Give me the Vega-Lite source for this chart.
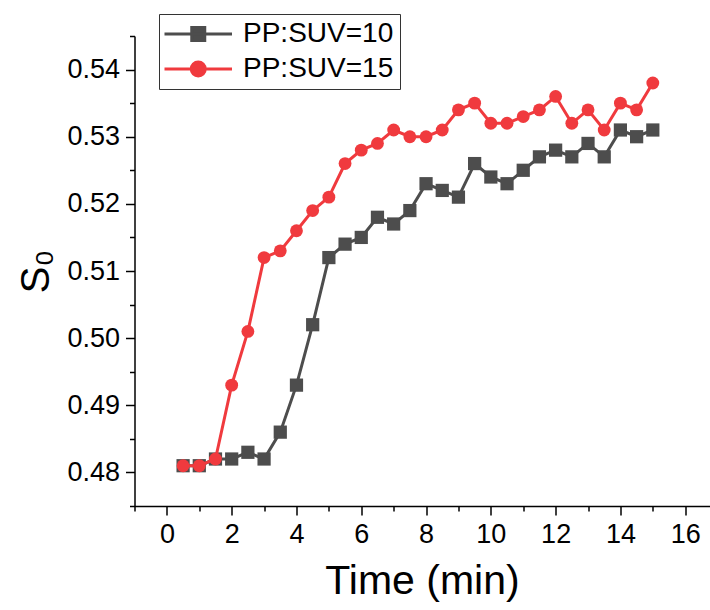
{
  "$schema": "https://vega.github.io/schema/vega-lite/v6.json",
  "autosize": "none",
  "width": 575,
  "height": 470,
  "padding": {"left": 134.5, "top": 36, "right": 0, "bottom": 104},
  "background": "white",
  "config": {
    "view": {"stroke": null},
    "font": "Liberation Sans",
    "axis": {"grid": false, "domainColor": "#000", "domainWidth": 1.5, "tickColor": "#000", "tickWidth": 1.5, "labelColor": "#000", "titleColor": "#000", "labelFont": "Liberation Sans", "titleFont": "Liberation Sans", "labelFontSize": 27, "titleFontWeight": "normal"}
  },
  "data": {"values": [
    {"t": 0.5, "s": 0.481, "g": "PP:SUV=10"}, {"t": 1.0, "s": 0.481, "g": "PP:SUV=10"}, {"t": 1.5, "s": 0.482, "g": "PP:SUV=10"},
    {"t": 2.0, "s": 0.482, "g": "PP:SUV=10"}, {"t": 2.5, "s": 0.483, "g": "PP:SUV=10"}, {"t": 3.0, "s": 0.482, "g": "PP:SUV=10"},
    {"t": 3.5, "s": 0.486, "g": "PP:SUV=10"}, {"t": 4.0, "s": 0.493, "g": "PP:SUV=10"}, {"t": 4.5, "s": 0.502, "g": "PP:SUV=10"},
    {"t": 5.0, "s": 0.512, "g": "PP:SUV=10"}, {"t": 5.5, "s": 0.514, "g": "PP:SUV=10"}, {"t": 6.0, "s": 0.515, "g": "PP:SUV=10"},
    {"t": 6.5, "s": 0.518, "g": "PP:SUV=10"}, {"t": 7.0, "s": 0.517, "g": "PP:SUV=10"}, {"t": 7.5, "s": 0.519, "g": "PP:SUV=10"},
    {"t": 8.0, "s": 0.523, "g": "PP:SUV=10"}, {"t": 8.5, "s": 0.522, "g": "PP:SUV=10"}, {"t": 9.0, "s": 0.521, "g": "PP:SUV=10"},
    {"t": 9.5, "s": 0.526, "g": "PP:SUV=10"}, {"t": 10.0, "s": 0.524, "g": "PP:SUV=10"}, {"t": 10.5, "s": 0.523, "g": "PP:SUV=10"},
    {"t": 11.0, "s": 0.525, "g": "PP:SUV=10"}, {"t": 11.5, "s": 0.527, "g": "PP:SUV=10"}, {"t": 12.0, "s": 0.528, "g": "PP:SUV=10"},
    {"t": 12.5, "s": 0.527, "g": "PP:SUV=10"}, {"t": 13.0, "s": 0.529, "g": "PP:SUV=10"}, {"t": 13.5, "s": 0.527, "g": "PP:SUV=10"},
    {"t": 14.0, "s": 0.531, "g": "PP:SUV=10"}, {"t": 14.5, "s": 0.530, "g": "PP:SUV=10"}, {"t": 15.0, "s": 0.531, "g": "PP:SUV=10"},
    {"t": 0.5, "s": 0.481, "g": "PP:SUV=15"}, {"t": 1.0, "s": 0.481, "g": "PP:SUV=15"}, {"t": 1.5, "s": 0.482, "g": "PP:SUV=15"},
    {"t": 2.0, "s": 0.493, "g": "PP:SUV=15"}, {"t": 2.5, "s": 0.501, "g": "PP:SUV=15"}, {"t": 3.0, "s": 0.512, "g": "PP:SUV=15"},
    {"t": 3.5, "s": 0.513, "g": "PP:SUV=15"}, {"t": 4.0, "s": 0.516, "g": "PP:SUV=15"}, {"t": 4.5, "s": 0.519, "g": "PP:SUV=15"},
    {"t": 5.0, "s": 0.521, "g": "PP:SUV=15"}, {"t": 5.5, "s": 0.526, "g": "PP:SUV=15"}, {"t": 6.0, "s": 0.528, "g": "PP:SUV=15"},
    {"t": 6.5, "s": 0.529, "g": "PP:SUV=15"}, {"t": 7.0, "s": 0.531, "g": "PP:SUV=15"}, {"t": 7.5, "s": 0.530, "g": "PP:SUV=15"},
    {"t": 8.0, "s": 0.530, "g": "PP:SUV=15"}, {"t": 8.5, "s": 0.531, "g": "PP:SUV=15"}, {"t": 9.0, "s": 0.534, "g": "PP:SUV=15"},
    {"t": 9.5, "s": 0.535, "g": "PP:SUV=15"}, {"t": 10.0, "s": 0.532, "g": "PP:SUV=15"}, {"t": 10.5, "s": 0.532, "g": "PP:SUV=15"},
    {"t": 11.0, "s": 0.533, "g": "PP:SUV=15"}, {"t": 11.5, "s": 0.534, "g": "PP:SUV=15"}, {"t": 12.0, "s": 0.536, "g": "PP:SUV=15"},
    {"t": 12.5, "s": 0.532, "g": "PP:SUV=15"}, {"t": 13.0, "s": 0.534, "g": "PP:SUV=15"}, {"t": 13.5, "s": 0.531, "g": "PP:SUV=15"},
    {"t": 14.0, "s": 0.535, "g": "PP:SUV=15"}, {"t": 14.5, "s": 0.534, "g": "PP:SUV=15"}, {"t": 15.0, "s": 0.538, "g": "PP:SUV=15"}
  ]},
  "encoding": {
    "x": {"field": "t", "type": "quantitative",
      "scale": {"domain": [-1, 16.75], "nice": false, "zero": false},
      "axis": {"title": "Time (min)", "titleFontSize": 41, "titlePadding": 14,
        "values": [-1,0,1,2,3,4,5,6,7,8,9,10,11,12,13,14,15,16],
        "labelExpr": "datum.value % 2 === 0 && datum.value >= 0 ? datum.label : ''",
        "tickSize": {"condition": {"test": "datum.value % 2 === 0", "value": 9}, "value": 5},
        "labelPadding": 6, "labelFlush": false, "labelOverlap": false}},
    "y": {"field": "s", "type": "quantitative",
      "scale": {"domain": [0.475, 0.545], "nice": false, "zero": false},
      "axis": {"title": "S₀", "titleFontSize": 40, "titlePadding": 10,
        "values": [0.475,0.48,0.485,0.49,0.495,0.5,0.505,0.51,0.515,0.52,0.525,0.53,0.535,0.54,0.545],
        "format": ".2f",
        "labelExpr": "round(datum.value*1000) % 10 === 0 ? datum.label : ''",
        "tickSize": {"condition": {"test": "round(datum.value*1000) % 10 === 0", "value": 9}, "value": 5},
        "labelPadding": 6, "labelFlush": false, "labelOverlap": false}},
    "color": {"field": "g", "type": "nominal",
      "scale": {"domain": ["PP:SUV=10", "PP:SUV=15"], "range": ["#4d4d4d", "#f03a3e"]},
      "legend": {"title": null, "orient": "none", "legendX": 24.5, "legendY": -22,
        "direction": "vertical", "padding": 6, "strokeColor": "#333", "fillColor": "white",
        "labelFontSize": 28, "labelFont": "Liberation Sans", "labelColor": "#000",
        "symbolSize": 400, "symbolStrokeWidth": 3, "labelOffset": 50, "rowPadding": 7,
        "encode": {"symbols": {"update": {
          "shape": {"signal": "datum.value === 'PP:SUV=10' ? 'M-1.45,0H5.3M1.275,-0.65H2.575V0.65H1.275Z' : 'M-1.45,0H5.3M2.625,0A0.7,0.7 0 1,1 1.225,0A0.7,0.7 0 1,1 2.625,0Z'"},
          "fill": {"scale": "color", "field": "value"},
          "stroke": {"scale": "color", "field": "value"},
          "strokeWidth": {"value": 3},
          "opacity": {"value": 1}
        }}}}}
  },
  "layer": [
    {"transform": [{"filter": "datum.g === 'PP:SUV=10'"}], "mark": {"type": "line", "strokeWidth": 3}},
    {"transform": [{"filter": "datum.g === 'PP:SUV=10'"}], "mark": {"type": "point", "shape": "square", "filled": true, "size": 175, "opacity": 1}},
    {"transform": [{"filter": "datum.g === 'PP:SUV=15'"}], "mark": {"type": "line", "strokeWidth": 3}},
    {"transform": [{"filter": "datum.g === 'PP:SUV=15'"}], "mark": {"type": "point", "shape": "circle", "filled": true, "size": 165, "opacity": 1}}
  ]
}
